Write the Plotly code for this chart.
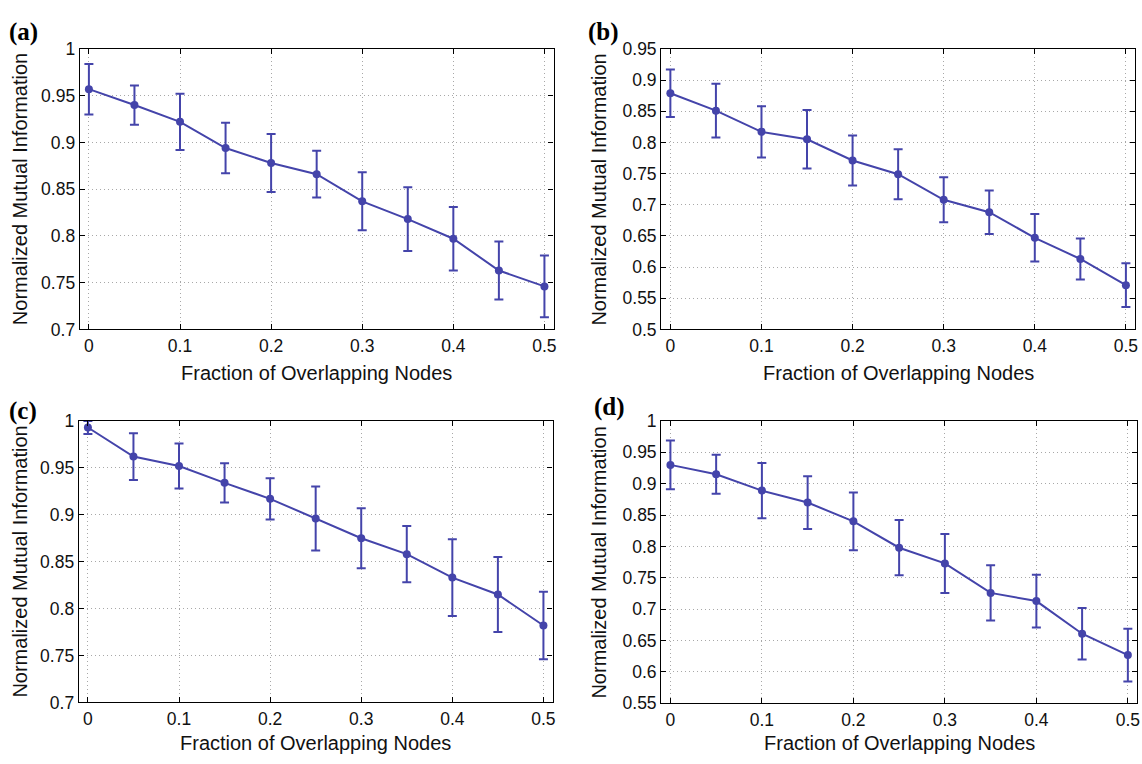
import plotly.graph_objects as go

# ---- data ----
frac = [0, 0.05, 0.1, 0.15, 0.2, 0.25, 0.3, 0.35, 0.4, 0.45, 0.5]

nmi_a = [0.957, 0.940, 0.922, 0.894, 0.878, 0.866, 0.837, 0.818, 0.797, 0.763, 0.746]
err_a = [0.027, 0.021, 0.030, 0.027, 0.031, 0.025, 0.031, 0.034, 0.034, 0.031, 0.033]

nmi_b = [0.879, 0.851, 0.817, 0.805, 0.771, 0.749, 0.708, 0.688, 0.647, 0.613, 0.571]
err_b = [0.038, 0.043, 0.041, 0.047, 0.040, 0.040, 0.036, 0.035, 0.038, 0.033, 0.035]

nmi_c = [0.993, 0.962, 0.952, 0.934, 0.917, 0.896, 0.875, 0.858, 0.833, 0.815, 0.782]
err_c = [0.007, 0.025, 0.024, 0.021, 0.022, 0.034, 0.032, 0.030, 0.041, 0.040, 0.036]

nmi_d = [0.930, 0.915, 0.889, 0.870, 0.840, 0.798, 0.773, 0.726, 0.713, 0.661, 0.627]
err_d = [0.039, 0.031, 0.044, 0.042, 0.046, 0.044, 0.047, 0.044, 0.042, 0.041, 0.042]

panels = [
    ("(a)", nmi_a, err_a, [0.7, 1.0]),
    ("(b)", nmi_b, err_b, [0.5, 0.95]),
    ("(c)", nmi_c, err_c, [0.7, 1.0]),
    ("(d)", nmi_d, err_d, [0.55, 1.0]),
]

x_ticks = [0, 0.1, 0.2, 0.3, 0.4, 0.5]
x_range = [-0.01, 0.51]
x_title = "Fraction of Overlapping Nodes"
y_title = "Normalized Mutual Information"

# ---- layout geometry (pixels) ----
W, H = 1142, 764
boxes = [  # left, right, top, bottom
    (80, 555, 40, 328),
    (663, 1138, 40, 328),
    (79, 554, 422, 711),
    (663, 1140, 422, 712),
]
panel_label_pos = [(24, 23), (605, 23), (23, 412), (611, 408)]
ytitle_x = [20, 601, 20, 601]
xtitle_y = [373, 373, 753, 753]

BLUE = "#4444aa"
FONT = "Liberation Sans, Arial, sans-serif"

fig = go.Figure()
annotations = []
layout = {}
for i, (lab, vals, errs, yr) in enumerate(panels):
    n = i + 1
    xa = "x" if n == 1 else f"x{n}"
    ya = "y" if n == 1 else f"y{n}"
    l, r, t, b = boxes[i]
    fig.add_trace(go.Scatter(
        x=frac, y=vals, xaxis=xa, yaxis=ya, mode="lines+markers",
        line=dict(color=BLUE, width=2),
        marker=dict(color=BLUE, size=8),
        error_y=dict(type="data", array=errs, visible=True,
                     color=BLUE, thickness=2, width=4.5),
        showlegend=False,
    ))
    axis_common = dict(
        showline=True, linecolor="black", linewidth=1.3, mirror="allticks",
        ticks="inside", ticklen=5, tickcolor="black",
        showgrid=True, gridcolor="#a8a8a8", griddash="1px,3px", gridwidth=1,
        zeroline=False, tickfont=dict(family=FONT, size=17.5, color="#111111"),
    )
    layout["xaxis" if n == 1 else f"xaxis{n}"] = dict(
        domain=[l / W, r / W], anchor=ya, range=x_range,
        tickvals=x_ticks, **axis_common)
    layout["yaxis" if n == 1 else f"yaxis{n}"] = dict(
        domain=[1 - b / H, 1 - t / H], anchor=xa, range=yr,
        dtick=0.05, tick0=0, **axis_common)
    annotations.append(dict(
        text=f"<b>{lab}</b>", x=panel_label_pos[i][0] / W, y=1 - panel_label_pos[i][1] / H,
        xref="paper", yref="paper", showarrow=False, xanchor="center", yanchor="middle",
        font=dict(family="Liberation Serif, Times New Roman, serif", size=25, color="black")))
    annotations.append(dict(
        text=y_title, x=ytitle_x[i] / W, y=1 - (t + b) / 2 / H, textangle=-90,
        xref="paper", yref="paper", showarrow=False, xanchor="center", yanchor="middle",
        font=dict(family=FONT, size=20, color="#111111")))
    annotations.append(dict(
        text=x_title, x=(l + r) / 2 / W, y=1 - xtitle_y[i] / H,
        xref="paper", yref="paper", showarrow=False, xanchor="center", yanchor="middle",
        font=dict(family=FONT, size=20, color="#111111")))

fig.update_layout(
    width=W, height=H, margin=dict(l=0, r=0, t=0, b=0),
    paper_bgcolor="white", plot_bgcolor="white",
    annotations=annotations, **layout)

fig.write_html("out.html")
